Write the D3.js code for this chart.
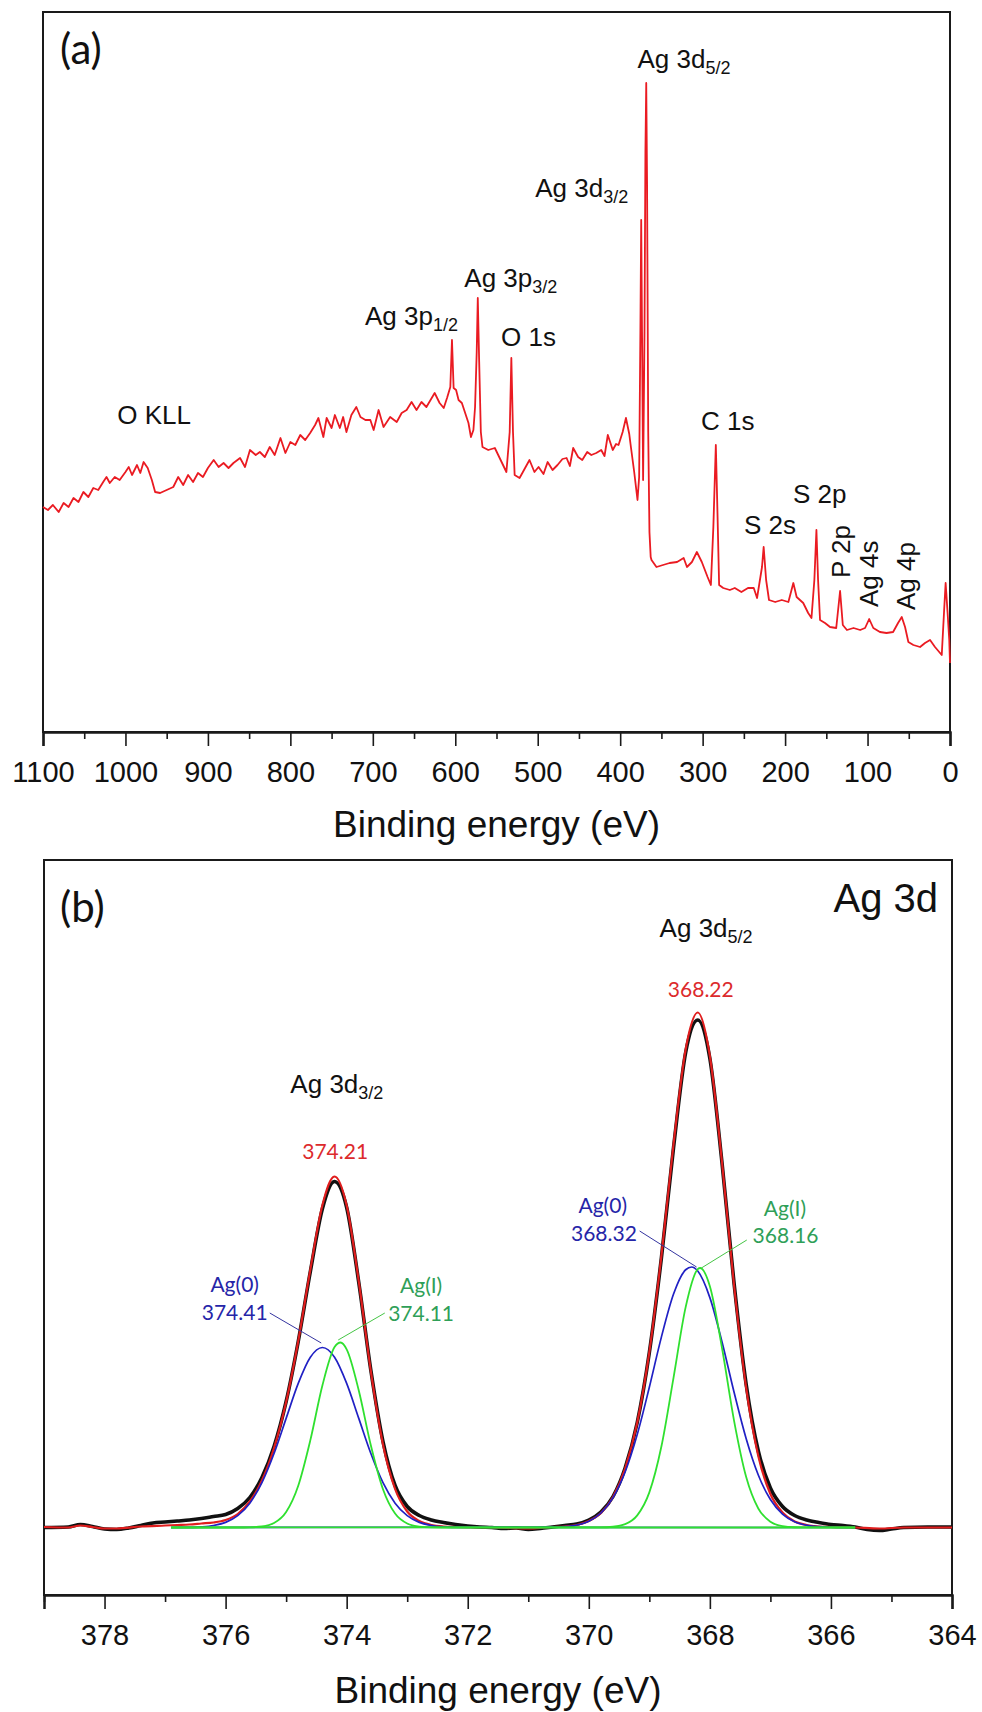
<!DOCTYPE html>
<html>
<head>
<meta charset="utf-8">
<script src="https://cdn.jsdelivr.net/npm/d3@7"></script>
<style>
  body { margin: 0; background: #fff; }
</style>
</head>
<body>
<script>
// (a) survey spectrum: [binding energy (eV), intensity (a.u.)]
const survey = [
  [1100, 22.5], [1094, 22.2], [1088, 22.7], [1081, 22.0], [1075, 22.9], [1069, 22.5], [1063, 23.4],
  [1057, 23.0], [1051, 24.0], [1045, 23.5], [1039, 24.4], [1033, 24.2], [1027, 25.0], [1023, 25.5],
  [1019, 24.9], [1013, 25.5], [1007, 25.2], [1000, 26.0], [996, 26.5], [992, 25.7], [986, 26.7],
  [982, 25.9], [978, 27.0], [973, 26.4], [968, 25.2], [964, 24.0], [958, 23.9], [950, 24.2],
  [942, 24.5], [936, 25.5], [930, 24.7], [924, 25.7], [918, 25.0], [912, 25.9], [906, 25.5],
  [900, 26.4], [893, 27.2], [887, 26.5], [881, 26.9], [875, 26.4], [869, 26.9], [861, 27.4],
  [855, 26.5], [849, 28.2], [842, 27.7], [837, 28.0], [831, 27.5], [825, 28.5], [819, 27.7],
  [812, 29.4], [806, 27.9], [800, 29.0], [794, 28.7], [788, 29.7], [782, 29.2], [776, 29.9],
  [770, 30.7], [766, 31.4], [760, 29.5], [756, 31.4], [750, 30.4], [746, 31.7], [740, 30.4],
  [736, 31.5], [732, 30.0], [726, 31.7], [720, 32.5], [715, 31.5], [709, 31.2], [703, 31.2],
  [699, 30.2], [693, 32.2], [687, 30.5], [679, 31.5], [671, 31.0], [665, 31.9], [659, 32.2],
  [653, 33.0], [647, 32.2], [641, 33.0], [635, 32.5], [630, 33.2], [625, 33.9], [619, 32.9],
  [614, 32.4], [610, 33.4], [606, 34.5], [604, 39.2], [602, 34.4], [599, 34.2], [596, 33.2],
  [592, 32.9], [588, 31.9], [584, 30.9], [581, 29.5], [578, 30.2], [576, 32.5], [574, 38.0],
  [572.7, 43.4], [571, 37.0], [569, 30.0], [567, 28.5], [560, 28.2], [552, 28.4], [545, 27.2],
  [538, 26.0], [534, 30.0], [532, 37.4], [530, 30.0], [528, 25.7], [522, 25.4], [516, 26.3],
  [510, 27.2], [504, 26.0], [499, 26.5], [493, 25.8], [488, 27.0], [482, 26.2], [476, 26.7],
  [470, 27.3], [465, 27.4], [461, 26.6], [457, 28.4], [451, 27.5], [446, 27.2], [440, 28.0],
  [435, 27.7], [429, 27.9], [423, 28.2], [419, 27.6], [415, 29.7], [409, 28.2], [405, 28.8],
  [402, 28.7], [397, 30.0], [393, 31.4], [389, 29.8], [387, 28.5], [383, 26.0], [379, 23.2],
  [377, 25.5], [375.5, 40.0], [374.5, 51.2], [373.5, 40.0], [372.2, 25.2], [370.5, 40.0],
  [369.4, 58.0], [368.4, 64.9], [367.4, 55.0], [366, 30.0], [364.5, 20.0], [363, 17.5],
  [362, 17.2], [356, 16.5], [348, 16.7], [340, 16.9], [331, 17.0], [323, 17.4], [319, 16.5],
  [313, 17.0], [307, 18.0], [301, 17.0], [294, 15.5], [290, 14.7], [287, 20.5], [284, 28.7],
  [282, 21.9], [280, 14.7], [275, 14.4], [267, 14.2], [261, 14.4], [253, 14.0], [245, 14.4],
  [238, 14.4], [234, 13.4], [228, 16.5], [226, 18.5], [223, 15.2], [219.5, 13.2], [212, 13.0],
  [204, 13.2], [196, 13.0], [190, 14.9], [186, 13.5], [178, 12.9], [172, 11.9], [168, 11.4],
  [164.5, 15.2], [162, 20.2], [160, 15.2], [157.6, 11.2], [151.6, 10.9], [145.5, 10.5],
  [138, 10.4], [133.3, 14.1], [130, 10.7], [125, 10.2], [117, 10.4], [109, 10.2], [103, 10.4],
  [98, 11.3], [93, 10.4], [85, 10.0], [77, 9.9], [69, 10.0], [63, 10.9], [58.5, 11.5],
  [54.5, 10.5], [50.5, 9.0], [44.4, 8.7], [36.3, 8.5], [30.3, 8.9], [24.2, 9.2], [18.2, 8.5],
  [10, 7.7], [7.3, 11.9], [5.3, 14.9], [2.9, 11.9], [0.9, 9.2], [0, 6.9]
];

// peak labels of (a), placed in data coordinates
const surveyLabels = [
  { main: "Ag 3d", sub: "5/2", be: 379, val: 66.4 },
  { main: "Ag 3d", sub: "3/2", be: 503, val: 53.5 },
  { main: "Ag 3p", sub: "3/2", be: 589, val: 44.5 },
  { main: "Ag 3p", sub: "1/2", be: 709.5, val: 40.7 },
  { main: "O 1s", be: 544.5, val: 38.6 },
  { main: "O KLL", be: 1010, val: 30.8 },
  { main: "C 1s", be: 302, val: 30.2 },
  { main: "S 2p", be: 190.4, val: 22.9 },
  { main: "S 2s", be: 249.8, val: 19.8 },
  { main: "P 2p", be: 121.2, val: 15.4, vertical: true },
  { main: "Ag 4s", be: 87.3, val: 12.5, vertical: true },
  { main: "Ag 4p", be: 42.4, val: 12.2, vertical: true }
];

// (b) Ag 3d high resolution
const raw3d = [
  [379.0, 0.0], [378.6, 0.1], [378.4, 0.6], [378.2, 0.2], [378.0, -0.3], [377.8, -0.4],
  [377.6, -0.1], [377.4, 0.4], [377.2, 0.9], [377.0, 1.1], [376.8, 1.3], [376.6, 1.5],
  [376.4, 1.8], [376.2, 2.2], [376.0, 2.6], [375.8, 3.8], [375.6, 6.0], [375.4, 10.0],
  [375.2, 16.2], [375.0, 25.2], [374.8, 37.2], [374.6, 51.2], [374.4, 63.8], [374.2, 69.2],
  [374.0, 64.0], [373.8, 49.0], [373.6, 31.4], [373.4, 17.2], [373.2, 8.4], [373.0, 4.2],
  [372.8, 2.4], [372.6, 1.5], [372.4, 1.0], [372.2, 0.6], [372.0, 0.3], [371.8, 0.1],
  [371.6, 0.0], [371.4, -0.2], [371.2, -0.1], [371.0, -0.4], [370.8, -0.2], [370.6, 0.1],
  [370.4, 0.4], [370.2, 0.7], [370.0, 1.5], [369.8, 3.1], [369.6, 6.2], [369.4, 11.9],
  [369.2, 21.0], [369.0, 35.0], [368.8, 54.0], [368.6, 76.0], [368.4, 95.0], [368.2, 101.5],
  [368.0, 93.8], [367.8, 73.0], [367.6, 48.8], [367.4, 28.6], [367.2, 15.3], [367.0, 7.9],
  [366.8, 4.2], [366.6, 2.4], [366.4, 1.5], [366.2, 1.0], [366.0, 0.6], [365.8, 0.4],
  [365.6, 0.1], [365.4, -0.4], [365.2, -0.6], [365.0, -0.3], [364.8, 0.0], [364.4, 0.1],
  [364.0, 0.1]
];

const envelope3d = [
  [379.0, 0.1], [378.6, 0.0], [378.4, 0.4], [378.2, 0.1], [378.0, -0.2], [377.8, -0.2],
  [377.4, 0.2], [377.0, 0.4], [376.8, 0.5], [376.6, 0.6], [376.4, 0.8], [376.2, 1.0],
  [376.0, 1.5], [375.8, 2.7], [375.6, 5.2], [375.4, 9.4], [375.2, 15.9], [375.0, 25.1],
  [374.8, 37.3], [374.6, 51.6], [374.4, 64.5], [374.2, 70.2], [374.0, 64.4], [373.8, 49.2],
  [373.6, 31.2], [373.4, 16.6], [373.2, 7.7], [373.0, 3.2], [372.8, 1.3], [372.6, 0.5],
  [372.4, 0.2], [372.2, 0.1], [371.6, 0.0], [371.0, -0.2], [370.8, -0.1], [370.6, 0.1],
  [370.4, 0.2], [370.2, 0.5], [370.0, 1.3], [369.8, 2.9], [369.6, 6.1], [369.4, 11.8],
  [369.2, 21.0], [369.0, 35.1], [368.8, 54.4], [368.6, 76.7], [368.4, 95.6], [368.2, 103.0],
  [368.0, 94.3], [367.8, 73.1], [367.6, 48.4], [367.4, 27.9], [367.2, 14.3], [367.0, 6.7],
  [366.8, 3.0], [366.6, 1.2], [366.4, 0.5], [366.2, 0.2], [366.0, 0.1], [365.6, 0.0],
  [365.2, -0.2], [364.8, 0.0], [364.0, 0.0]
];

// fitted components, Ag(0) (blue) and Ag(I) (green)
const ag0_32 = [
  [376.9, 0], [376.8, 0.01], [376.6, 0.04], [376.4, 0.14], [376.2, 0.40], [376.0, 1.03],
  [375.8, 2.37], [375.6, 4.87], [375.4, 8.98], [375.2, 14.80], [375.0, 21.83], [374.8, 28.82],
  [374.6, 34.05], [374.4, 36.0], [374.2, 34.05], [374.0, 28.82], [373.8, 21.83], [373.6, 14.80],
  [373.4, 8.98], [373.2, 4.87], [373.0, 2.37], [372.8, 1.03], [372.6, 0.40], [372.4, 0.14],
  [372.2, 0.04], [372.0, 0.01], [365.6, 0]
];
const ag0_52 = [
  [376.9, 0], [370.6, 0.06], [370.4, 0.18], [370.2, 0.50], [370.0, 1.27], [369.8, 2.90],
  [369.6, 5.98], [369.4, 11.11], [369.2, 18.59], [369.0, 28.05], [368.8, 38.13], [368.6, 46.70],
  [368.4, 51.55], [368.3, 52.1], [368.2, 51.29], [368.0, 45.98], [367.8, 37.15], [367.6, 27.04],
  [367.4, 17.75], [367.2, 10.49], [367.0, 5.59], [366.8, 2.68], [366.6, 1.16], [366.4, 0.45],
  [366.2, 0.16], [366.0, 0.05], [365.6, 0]
];
const agI_32 = [
  [376.9, 0], [375.8, 0], [375.6, 0.04], [375.4, 0.20], [375.2, 0.90], [375.0, 3.11],
  [374.8, 8.36], [374.6, 17.47], [374.4, 28.45], [374.2, 36.08], [374.1, 37.0], [374.0, 35.63],
  [373.8, 27.40], [373.6, 16.41], [373.4, 7.66], [373.2, 2.78], [373.0, 0.79], [372.8, 0.17],
  [372.6, 0.03], [372.4, 0], [365.6, 0]
];
const agI_52 = [
  [376.9, 0], [369.8, 0.03], [369.6, 0.15], [369.4, 0.66], [369.2, 2.42], [369.0, 7.02],
  [368.8, 16.25], [368.6, 29.98], [368.4, 44.08], [368.2, 51.67], [368.16, 51.9], [368.0, 48.27],
  [367.8, 35.95], [367.6, 21.34], [367.4, 10.10], [367.2, 3.81], [367.0, 1.15], [366.8, 0.27],
  [366.6, 0.05], [366.4, 0.01], [365.6, 0]
];

// annotations of (b): text, data position, colour key
const peakTitles = [
  { main: "Ag 3d", sub: "5/2", be: 368.83, val: 118.1 },
  { main: "Ag 3d", sub: "3/2", be: 374.93, val: 86.9 }
];
const fitLabels = [
  { text: "368.22", be: 368.15, val: 106.1, c: "red" },
  { text: "374.21", be: 374.19, val: 73.7, c: "red" },
  { text: "Ag(0)", be: 369.77, val: 62.9, c: "blue" },
  { text: "368.32", be: 369.75, val: 57.3, c: "blue" },
  { text: "Ag(I)", be: 366.76, val: 62.3, c: "green" },
  { text: "368.16", be: 366.75, val: 56.9, c: "green" },
  { text: "Ag(0)", be: 375.85, val: 47.2, c: "blue" },
  { text: "374.41", be: 375.85, val: 41.5, c: "blue" },
  { text: "Ag(I)", be: 372.77, val: 46.9, c: "green" },
  { text: "374.11", be: 372.77, val: 41.4, c: "green" }
];
const leaders = [
  { from: [369.16, 59.3], to: [368.22, 52.1], c: "blue" },
  { from: [367.39, 57.5], to: [368.14, 51.9], c: "green" },
  { from: [375.27, 42.9], to: [374.42, 36.9], c: "blue" },
  { from: [373.37, 42.9], to: [374.14, 37.5], c: "green" }
];

const W = 982, H = 1712;
const arial = "'Liberation Sans', Arial, sans-serif";
const calibri = "Lato, 'Open Sans', sans-serif";
const textColor = { red: "#dc2a2c", blue: "#2525a8", green: "#2f9f58" };
const lineColor = { blue: "#2020c4", green: "#2fe02f" };

const svg = d3.select("body")
  .append("svg")
  .attr("width", W)
  .attr("height", H)
  .style("background", "#fff");

const xA = d3.scaleLinear().domain([1100, 0]).range([43, 950]);
const yA = d3.scaleLinear().domain([0, 72]).range([732, 12]);
const xB = d3.scaleLinear().domain([379, 364]).range([44, 952]);
const yB = d3.scaleLinear().domain([-13.5, 133.5]).range([1595, 860]);

function drawFrame(x, y, majors, minors, titleY) {
  const [x0, x1] = x.range();
  const [y0, y1] = y.range();

  svg.append("rect")
    .attr("x", x0)
    .attr("y", y1)
    .attr("width", x1 - x0)
    .attr("height", y0 - y1)
    .attr("fill", "none")
    .attr("stroke", "#1a1a1a")
    .attr("stroke-width", 2);

  const major = svg.append("g")
    .attr("transform", `translate(0,${y0})`)
    .call(d3.axisBottom(x).tickValues(majors).tickSize(14).tickPadding(15).tickFormat(d3.format("d")));
  major.select(".domain").attr("stroke-width", 2.5).attr("stroke", "#1a1a1a");
  major.selectAll(".tick line").attr("stroke-width", 1.6).attr("stroke", "#1a1a1a");
  major.selectAll(".tick text")
    .attr("font-family", arial)
    .attr("font-size", 29)
    .attr("fill", "#111");

  const minor = svg.append("g")
    .attr("transform", `translate(0,${y0})`)
    .call(d3.axisBottom(x).tickValues(minors).tickSize(7).tickFormat(""));
  minor.select(".domain").remove();
  minor.selectAll(".tick line").attr("stroke-width", 1.6).attr("stroke", "#1a1a1a");

  svg.append("text")
    .attr("x", (x0 + x1) / 2)
    .attr("y", titleY)
    .attr("text-anchor", "middle")
    .attr("font-family", arial)
    .attr("font-size", 37)
    .attr("fill", "#111")
    .text("Binding energy (eV)");
}

function subLabel(g, d, size, subSize) {
  const t = g.append("text")
    .attr("font-family", arial)
    .attr("font-size", size)
    .attr("fill", "#111")
    .text(d.main);
  if (d.sub) {
    t.append("tspan")
      .attr("font-size", subSize)
      .attr("dy", 6)
      .text(d.sub);
  }
  return t;
}

// ---------- panel (a) ----------
drawFrame(xA, yA, d3.range(0, 1101, 100), d3.range(50, 1100, 100), 837);

svg.append("path")
  .datum(survey)
  .attr("fill", "none")
  .attr("stroke", "#ea1b22")
  .attr("stroke-width", 1.8)
  .attr("stroke-linejoin", "round")
  .attr("d", d3.line().x((d) => xA(d[0])).y((d) => yA(d[1])));

surveyLabels.forEach((d) => {
  const g = svg.append("g")
    .attr("transform", d.vertical
      ? `translate(${xA(d.be)},${yA(d.val)}) rotate(-90)`
      : `translate(${xA(d.be)},${yA(d.val)})`);
  subLabel(g, d, 26, 18);
});

svg.append("text")
  .attr("x", 60)
  .attr("y", 64)
  .attr("font-family", calibri)
  .attr("font-size", 42)
  .attr("fill", "#111")
  .text("(a)");

// ---------- panel (b) ----------
drawFrame(xB, yB, d3.range(364, 379, 2), d3.range(365, 380, 2), 1703);

const lineB = d3.line()
  .curve(d3.curveMonotoneX)
  .x((d) => xB(d[0]))
  .y((d) => yB(d[1]));

svg.append("path")
  .datum(raw3d)
  .attr("fill", "none")
  .attr("stroke", "#111")
  .attr("stroke-width", 3.6)
  .attr("d", lineB);

svg.append("path")
  .datum(envelope3d)
  .attr("fill", "none")
  .attr("stroke", "#e01d1d")
  .attr("stroke-width", 2.2)
  .attr("d", lineB);

[ag0_32, ag0_52].forEach((s) => {
  svg.append("path")
    .datum(s)
    .attr("fill", "none")
    .attr("stroke", lineColor.blue)
    .attr("stroke-width", 1.7)
    .attr("d", lineB);
});

[agI_32, agI_52].forEach((s) => {
  svg.append("path")
    .datum(s)
    .attr("fill", "none")
    .attr("stroke", lineColor.green)
    .attr("stroke-width", 1.8)
    .attr("d", lineB);
});

leaders.forEach((d) => {
  svg.append("line")
    .attr("x1", xB(d.from[0]))
    .attr("y1", yB(d.from[1]))
    .attr("x2", xB(d.to[0]))
    .attr("y2", yB(d.to[1]))
    .attr("stroke", d.c === "blue" ? "#3535a0" : "#45c545")
    .attr("stroke-width", 1);
});

fitLabels.forEach((d) => {
  svg.append("text")
    .attr("x", xB(d.be))
    .attr("y", yB(d.val))
    .attr("text-anchor", "middle")
    .attr("font-family", calibri)
    .attr("font-size", 21)
    .attr("fill", textColor[d.c])
    .text(d.text);
});

peakTitles.forEach((d) => {
  const g = svg.append("g").attr("transform", `translate(${xB(d.be)},${yB(d.val)})`);
  subLabel(g, d, 26, 18);
});

svg.append("text")
  .attr("x", 60)
  .attr("y", 922)
  .attr("font-family", calibri)
  .attr("font-size", 42)
  .attr("fill", "#111")
  .text("(b)");

svg.append("text")
  .attr("x", 938)
  .attr("y", 912)
  .attr("text-anchor", "end")
  .attr("font-family", arial)
  .attr("font-size", 40)
  .attr("fill", "#111")
  .text("Ag 3d");
</script>
</body>
</html>
